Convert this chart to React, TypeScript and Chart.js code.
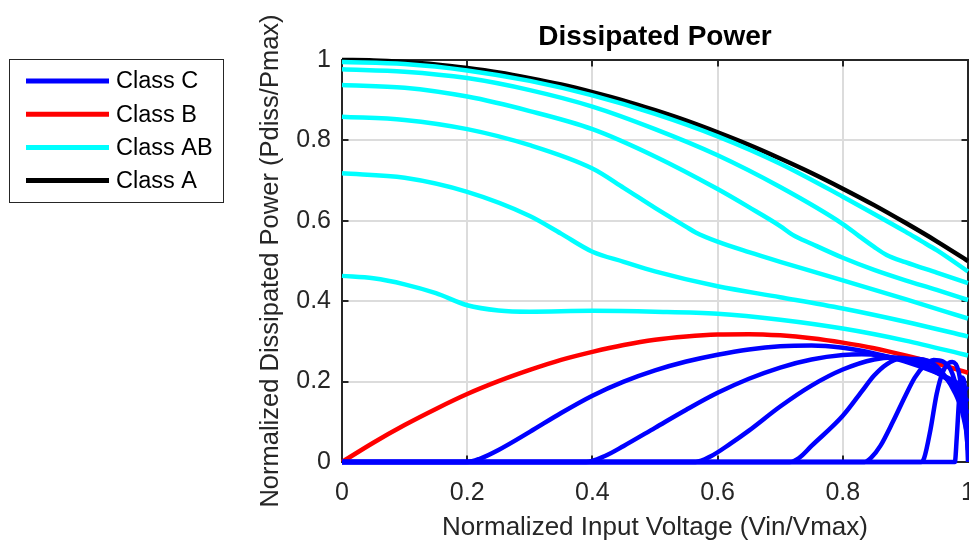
import React, { useEffect, useRef } from 'react';
import { Chart, registerables } from 'chart.js';

Chart.register(...registerables);

const xTickValues = [0, 0.2, 0.4, 0.6, 0.8, 1];
const xTickLabels = ['0', '0.2', '0.4', '0.6', '0.8', '1'];
const yTickValues = [0, 0.2, 0.4, 0.6, 0.8, 1];
const yTickLabels = ['0', '0.2', '0.4', '0.6', '0.8', '1'];

const seriesNames = ['Class C', 'Class B', 'Class AB', 'Class A'];
const seriesColors = ['#0000ff', '#ff0000', '#00ffff', '#000000'];

// Class A and Class B share this input grid
const gridX = [0, 0.05, 0.1, 0.15, 0.2, 0.25, 0.3, 0.35, 0.4, 0.45, 0.5, 0.55, 0.6, 0.65, 0.7, 0.75, 0.8, 0.85, 0.9, 0.95, 1];
const classAY = [1, 0.999, 0.995, 0.989, 0.98, 0.969, 0.955, 0.939, 0.92, 0.899, 0.875, 0.849, 0.82, 0.789, 0.755, 0.719, 0.68, 0.639, 0.595, 0.549, 0.5];
const classBY = [0, 0.048, 0.092, 0.132, 0.169, 0.201, 0.229, 0.254, 0.274, 0.291, 0.304, 0.312, 0.317, 0.318, 0.315, 0.308, 0.297, 0.283, 0.265, 0.245, 0.222];

// Class AB curves
const ab1X = [0, 0.1, 0.2, 0.3, 0.4, 0.5, 0.6, 0.7, 0.8, 0.85, 0.9, 0.925, 0.95, 1];
const ab1Y = [0.995, 0.99, 0.974, 0.948, 0.912, 0.866, 0.81, 0.742, 0.66, 0.617, 0.573, 0.55, 0.527, 0.474];
const ab2X = [0, 0.1, 0.2, 0.3, 0.4, 0.5, 0.6, 0.7, 0.8, 0.826, 0.85, 0.87, 0.9, 0.95, 1];
const ab2Y = [0.977, 0.971, 0.955, 0.925, 0.884, 0.828, 0.763, 0.684, 0.592, 0.562, 0.535, 0.515, 0.497, 0.471, 0.445];
const ab3X = [0, 0.1, 0.2, 0.3, 0.4, 0.5, 0.6, 0.65, 0.7, 0.72, 0.75, 0.8, 0.85, 0.9, 0.95, 1];
const ab3Y = [0.938, 0.931, 0.909, 0.873, 0.828, 0.76, 0.679, 0.634, 0.587, 0.565, 0.543, 0.508, 0.478, 0.452, 0.428, 0.403];
const ab4X = [0, 0.1, 0.2, 0.3, 0.4, 0.45, 0.5, 0.55, 0.565, 0.6, 0.65, 0.7, 0.8, 0.9, 1];
const ab4Y = [0.859, 0.851, 0.828, 0.788, 0.73, 0.682, 0.632, 0.585, 0.571, 0.548, 0.522, 0.498, 0.452, 0.405, 0.357];
const ab5X = [0, 0.1, 0.2, 0.3, 0.35, 0.4, 0.45, 0.5, 0.6, 0.7, 0.8, 0.9, 1];
const ab5Y = [0.718, 0.707, 0.672, 0.612, 0.568, 0.523, 0.498, 0.474, 0.437, 0.41, 0.382, 0.349, 0.312];
const ab6X = [0, 0.05, 0.1, 0.15, 0.2, 0.25, 0.3, 0.4, 0.5, 0.6, 0.7, 0.8, 0.9, 1];
const ab6Y = [0.463, 0.457, 0.442, 0.42, 0.39, 0.377, 0.374, 0.376, 0.374, 0.369, 0.354, 0.332, 0.302, 0.265];

// Class C curves
const c1X = [0, 0.2, 0.22, 0.25, 0.3, 0.35, 0.4, 0.45, 0.5, 0.55, 0.6, 0.65, 0.7, 0.75, 0.8, 0.85, 0.9, 0.95, 0.98, 1];
const c1Y = [0, 0, 0.008, 0.03, 0.075, 0.122, 0.165, 0.2, 0.228, 0.25, 0.267, 0.28, 0.288, 0.29, 0.284, 0.27, 0.25, 0.222, 0.2, 0.18];
const c2X = [0, 0.39, 0.42, 0.45, 0.5, 0.55, 0.6, 0.65, 0.7, 0.75, 0.8, 0.83, 0.86, 0.9, 0.95, 0.98, 1];
const c2Y = [0, 0, 0.015, 0.04, 0.085, 0.13, 0.172, 0.207, 0.235, 0.255, 0.266, 0.268, 0.265, 0.252, 0.222, 0.19, 0.15];
const c3X = [0, 0.565, 0.59, 0.62, 0.65, 0.7, 0.75, 0.8, 0.85, 0.88, 0.91, 0.95, 0.98, 1];
const c3Y = [0, 0, 0.015, 0.045, 0.078, 0.138, 0.19, 0.23, 0.255, 0.26, 0.255, 0.228, 0.18, 0.12];
const c4X = [0, 0.715, 0.73, 0.75, 0.8, 0.83, 0.85, 0.87, 0.89, 0.92, 0.95, 0.98, 1];
const c4Y = [0, 0, 0.01, 0.04, 0.115, 0.175, 0.215, 0.243, 0.256, 0.256, 0.238, 0.17, 0.09];
const c5X = [0, 0.835, 0.845, 0.86, 0.88, 0.9, 0.915, 0.93, 0.945, 0.96, 0.975, 0.99, 1];
const c5Y = [0, 0, 0.01, 0.04, 0.1, 0.165, 0.21, 0.24, 0.254, 0.25, 0.22, 0.13, 0.06];
const c6X = [0, 0.925, 0.93, 0.94, 0.95, 0.96, 0.97, 0.975, 0.985, 0.993, 1];
const c6Y = [0, 0, 0.01, 0.08, 0.17, 0.225, 0.247, 0.249, 0.225, 0.14, 0.03];
const c7X = [0, 0.979, 0.982, 0.986, 0.99, 0.994, 0.998, 1];
const c7Y = [0, 0, 0.06, 0.16, 0.21, 0.2, 0.08, 0];

const FONT = '"Liberation Sans", Arial, Helvetica, sans-serif';
const AXIS_COLOR = '#262626';

const pts = (xs: number[], ys: number[]) => xs.map((x, i) => ({ x, y: ys[i] }));

const lineDs = (xs: number[], ys: number[], color: string, label: string) => ({
  label,
  data: pts(xs, ys),
  borderColor: color,
  backgroundColor: color,
  borderWidth: 4.5,
  pointRadius: 0,
  pointHoverRadius: 0,
  fill: false,
  cubicInterpolationMode: 'monotone' as const,
  clip: false as const,
});

const classCCurves: [number[], number[]][] = [[c1X, c1Y], [c2X, c2Y], [c3X, c3Y], [c4X, c4Y], [c5X, c5Y], [c6X, c6Y], [c7X, c7Y]];
const classABCurves: [number[], number[]][] = [[ab1X, ab1Y], [ab2X, ab2Y], [ab3X, ab3Y], [ab4X, ab4Y], [ab5X, ab5Y], [ab6X, ab6Y]];

const decorPlugin = {
  id: 'decor',
  beforeDatasetsDraw(chart: any) {
    const { ctx, chartArea: a, scales } = chart;
    ctx.save();
    ctx.strokeStyle = AXIS_COLOR;
    ctx.lineWidth = 2;
    ctx.strokeRect(a.left, a.top, a.right - a.left, a.bottom - a.top);
    const tl = 6.5;
    ctx.beginPath();
    xTickValues.forEach((v) => {
      const px = Math.round(scales.x.getPixelForValue(v));
      ctx.moveTo(px, a.bottom);
      ctx.lineTo(px, a.bottom - tl);
      ctx.moveTo(px, a.top);
      ctx.lineTo(px, a.top + tl);
    });
    yTickValues.forEach((v) => {
      const py = Math.round(scales.y.getPixelForValue(v));
      ctx.moveTo(a.left, py);
      ctx.lineTo(a.left + tl, py);
      ctx.moveTo(a.right, py);
      ctx.lineTo(a.right - tl, py);
    });
    ctx.stroke();
    ctx.restore();
  },
  afterDraw(chart: any) {
    const { ctx, chartArea: a } = chart;
    ctx.save();
    // title
    ctx.fillStyle = '#000000';
    ctx.font = `bold 28px ${FONT}`;
    ctx.textAlign = 'center';
    ctx.textBaseline = 'middle';
    ctx.fillText('Dissipated Power', (a.left + a.right) / 2, 37);
    // legend
    const bx = 9.5, by = 59.5, bw = 214, bh = 143;
    ctx.fillStyle = '#ffffff';
    ctx.fillRect(bx, by, bw, bh);
    ctx.strokeStyle = AXIS_COLOR;
    ctx.lineWidth = 1;
    ctx.strokeRect(bx, by, bw, bh);
    ctx.font = `23.5px ${FONT}`;
    ctx.textAlign = 'left';
    ctx.textBaseline = 'middle';
    seriesNames.forEach((name, i) => {
      const y = 81 + i * 33.2;
      ctx.strokeStyle = seriesColors[i];
      ctx.lineWidth = 5;
      ctx.beginPath();
      ctx.moveTo(26, y);
      ctx.lineTo(109, y);
      ctx.stroke();
      ctx.fillStyle = '#000000';
      ctx.fillText(name, 116, y + 1);
    });
    ctx.restore();
  },
};

export default function App() {
  const ref = useRef<HTMLCanvasElement>(null);
  useEffect(() => {
    if (!ref.current) return;
    const datasets: any[] = [
      ...classCCurves.map(([xs, ys]) => lineDs(xs, ys, seriesColors[0], seriesNames[0])),
      lineDs(gridX, classBY, seriesColors[1], seriesNames[1]),
      ...classABCurves.map(([xs, ys]) => lineDs(xs, ys, seriesColors[2], seriesNames[2])),
      lineDs(gridX, classAY, seriesColors[3], seriesNames[3]),
    ];
    const chart = new Chart(ref.current, {
      type: 'line',
      data: { datasets },
      plugins: [decorPlugin],
      options: {
        animation: false,
        responsive: false,
        devicePixelRatio: 1,
        events: [],
        layout: { padding: { left: 256, top: 60, right: 1, bottom: 0 } },
        plugins: {
          legend: { display: false },
          title: { display: false },
          tooltip: { enabled: false },
        },
        scales: {
          x: {
            type: 'linear',
            min: 0,
            max: 1,
            afterBuildTicks: (s: any) => {
              s.ticks = xTickValues.map((v) => ({ value: v }));
            },
            afterFit: (s: any) => {
              s.height = 79;
              s.paddingLeft = 0;
              s.paddingRight = 0;
            },
            ticks: {
              callback: (_v: any, i: number) => xTickLabels[i],
              font: { family: FONT, size: 25 },
              color: AXIS_COLOR,
              padding: 16,
              maxRotation: 0,
              autoSkip: false,
            },
            grid: { color: '#dcdcdc', lineWidth: 2, drawTicks: false },
            border: { display: false },
            title: {
              display: true,
              text: 'Normalized Input Voltage (Vin/Vmax)',
              font: { family: FONT, size: 26, lineHeight: 1 },
              color: AXIS_COLOR,
              padding: 0,
            },
          },
          y: {
            type: 'linear',
            min: 0,
            max: 1,
            afterBuildTicks: (s: any) => {
              s.ticks = yTickValues.map((v) => ({ value: v }));
            },
            afterFit: (s: any) => {
              s.width = 86;
              s.paddingTop = 0;
              s.paddingBottom = 0;
            },
            ticks: {
              callback: (_v: any, i: number) => yTickLabels[i],
              font: { family: FONT, size: 25 },
              color: AXIS_COLOR,
              padding: 11,
              autoSkip: false,
            },
            grid: { color: '#dcdcdc', lineWidth: 2, drawTicks: false },
            border: { display: false },
            title: {
              display: true,
              text: 'Normalized Dissipated Power (Pdiss/Pmax)',
              font: { family: FONT, size: 25.5, lineHeight: 1.2 },
              color: AXIS_COLOR,
              padding: 0,
            },
          },
        },
      } as any,
    });
    return () => chart.destroy();
  }, []);
  return (
    <div style={{ position: 'absolute', left: 0, top: 0, width: 969, height: 541, background: '#ffffff' }}>
      <canvas ref={ref} width={969} height={541} style={{ display: 'block', width: '969px', height: '541px' }} />
    </div>
  );
}
